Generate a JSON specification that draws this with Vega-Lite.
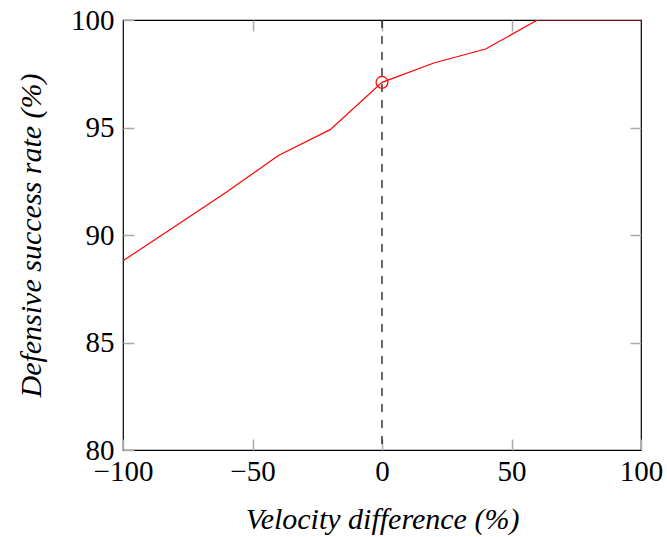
{
  "$schema": "https://vega.github.io/schema/vega-lite/v6.json",
  "autosize": {"type": "none"},
  "width": 518,
  "height": 430,
  "padding": {"left": 123, "top": 20, "right": 26, "bottom": 87},
  "background": "white",
  "config": {
    "view": {"stroke": "black", "strokeWidth": 1.2},
    "font": "Liberation Serif",
    "axis": {
      "labelFont": "Liberation Serif",
      "titleFont": "Liberation Serif",
      "labelFontSize": 29,
      "titleFontSize": 30,
      "titleFontWeight": "normal",
      "labelColor": "black",
      "titleColor": "black",
      "grid": false,
      "domain": false,
      "tickColor": "#aaaaaa",
      "tickWidth": 1.5,
      "tickSize": -11
    }
  },
  "datasets": {
    "curve": [
      {"v": -100, "s": 88.8},
      {"v": -80, "s": 90.4},
      {"v": -60, "s": 92.0},
      {"v": -40, "s": 93.7},
      {"v": -20, "s": 94.9},
      {"v": 0, "s": 97.1},
      {"v": 20, "s": 98.0},
      {"v": 40, "s": 98.65},
      {"v": 60, "s": 100},
      {"v": 80, "s": 100},
      {"v": 100, "s": 100}
    ],
    "marker": [{"v": 0, "s": 97.1}]
  },
  "layer": [
    {
      "data": {"name": "curve"},
      "mark": {"type": "line", "color": "#ff0000", "strokeWidth": 1.2, "clip": true},
      "encoding": {
        "x": {
          "field": "v", "type": "quantitative",
          "scale": {"domain": [-100, 100], "nice": false, "zero": false},
          "axis": {
            "orient": "bottom",
            "values": [-100, -50, 0, 50, 100],
            "labelExpr": "replace(datum.label, '-', '−')",
            "labelPadding": 18,
            "labelFlush": false,
            "title": "Velocity difference (%)",
            "titleFontStyle": "italic",
            "titlePadding": 18
          }
        },
        "y": {
          "field": "s", "type": "quantitative",
          "scale": {"domain": [80, 100], "nice": false, "zero": false},
          "axis": {
            "orient": "left",
            "values": [80, 85, 90, 95, 100],
            "labelPadding": 20,
            "labelFlush": false,
            "title": "Defensive success rate (%)",
            "titleFontStyle": "italic",
            "titlePadding": 24
          }
        }
      }
    },
    {
      "data": {"name": "marker"},
      "mark": {"type": "rule", "color": "black", "strokeWidth": 1.2, "strokeDash": [8, 8]},
      "encoding": {
        "x": {"field": "v", "type": "quantitative", "scale": {"domain": [-100, 100], "nice": false, "zero": false},
          "axis": {"orient": "top", "values": [-50, 0, 50], "labels": false, "title": null}}
      }
    },
    {
      "data": {"name": "marker"},
      "mark": {"type": "point", "shape": "circle", "filled": false, "color": "#ff0000", "size": 140, "strokeWidth": 1.2, "opacity": 1},
      "encoding": {
        "x": {"field": "v", "type": "quantitative", "scale": {"domain": [-100, 100], "nice": false, "zero": false}, "axis": null},
        "y": {"field": "s", "type": "quantitative", "scale": {"domain": [80, 100], "nice": false, "zero": false},
          "axis": {"orient": "right", "values": [85, 90, 95], "labels": false, "title": null}}
      }
    }
  ],
  "resolve": {"axis": {"x": "independent", "y": "independent"}}
}
